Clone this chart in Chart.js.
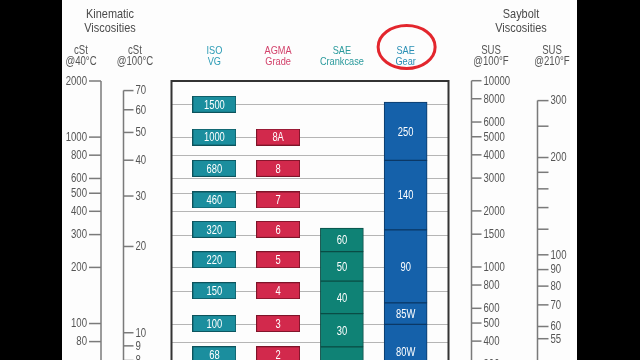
<!DOCTYPE html>
<html>
<head>
<meta charset="utf-8">
<script src="https://cdn.jsdelivr.net/npm/chart.js@4/dist/chart.umd.min.js"></script>
<style>
  html, body { margin: 0; padding: 0; background: #000; overflow: hidden; }
  #wrap { width: 640px; height: 430px; }
</style>
</head>
<body>
<div id="wrap"><canvas id="grafico" width="640" height="430"></canvas></div>
<script>
// columns of the chart
const categories = ['ISO VG', 'AGMA Grade', 'SAE Crankcase', 'SAE Gear'];
const headerColors = ['#2b9bb5', '#d2416a', '#2a9a9c', '#2a8fb5'];

// ISO VG and AGMA grades sit at their cSt @40°C value
const isoGrades = ['1500', '1000', '680', '460', '320', '220', '150', '100', '68'];
const isoCst40 = [1500, 1000, 680, 460, 320, 220, 150, 100, 68];
const agmaGrades = ['8A', '8', '7', '6', '5', '4', '3', '2'];
const agmaCst40 = [1000, 680, 460, 320, 220, 150, 100, 68];

// SAE ranges, cSt @40°C
const crankGrades = ['60', '50', '40', '30', '20'];
const crankLow = [243, 169, 113, 75, 46];
const crankHigh = [325, 243, 169, 113, 75];
const gearGrades = ['250', '140', '90', '85W', '80W'];
const gearLow = [751, 318, 129, 99, 51];
const gearHigh = [1541, 751, 318, 129, 99];

// scales on both sides
const gridCst40 = [1500, 1000, 800, 600, 500, 400, 300, 200, 150, 100, 80, 60];
const cst40Ticks = [2000, 1000, 800, 600, 500, 400, 300, 200, 100, 80, 60];
const cst100Ticks = [70, 60, 50, 40, 30, 20, 10, 9, 8];
const sus100Ticks = [10000, 8000, 6000, 5000, 4000, 3000, 2000, 1500, 1000, 800, 600, 500, 400, 300];
const sus210Ticks = [300, 250, 200, 180, 160, 140, 120, 100, 90, 80, 70, 60, 55];
const sus210Labels = ['300', '', '200', '', '', '', '', '100', '90', '80', '70', '60', '55'];

const FONT = "'Liberation Sans', Arial, sans-serif";
Chart.defaults.font.family = FONT;

function makeBox(fill, stroke) {
    const c = document.createElement('canvas');
    c.width = 44;
    c.height = 17;
    const g = c.getContext('2d');
    g.fillStyle = fill;
    g.fillRect(0, 0, 44, 17);
    g.strokeStyle = stroke;
    g.lineWidth = 1;
    g.strokeRect(0.5, 0.5, 43, 16);
    return c;
}

const isoBox = makeBox('#1b8e9e', '#0d535c');
const agmaBox = makeBox('#d2294c', '#7d1429');

const boxPad = 11;

const gradeLabels = [isoGrades, agmaGrades, crankGrades, gearGrades];

const sideAxes = [
    { id: 'y', x: 101, side: 'left', tick: 12, ticks: cst40Ticks, labels: cst40Ticks.map(String) },
    { id: 'y100', x: 123.5, side: 'right', tick: 10, ticks: cst100Ticks, labels: cst100Ticks.map(String) },
    { id: 'sus100', x: 471.5, side: 'right', tick: 10, ticks: sus100Ticks, labels: sus100Ticks.map(String) },
    { id: 'sus210', x: 537.5, side: 'right', tick: 11, ticks: sus210Ticks, labels: sus210Labels }
];

// narrow text: the original uses a condensed face
function narrowText(ctx, str, x, y, size, align, color, squeeze) {
    ctx.save();
    ctx.translate(x, y);
    ctx.scale(squeeze || 0.8, 1);
    ctx.font = size + 'px ' + FONT;
    ctx.fillStyle = color;
    ctx.textAlign = align;
    ctx.textBaseline = 'middle';
    ctx.fillText(str, 0, 0);
    ctx.restore();
}

const viscPlugin = {
    id: 'viscPlugin',
    beforeDraw(chart) {
        const ctx = chart.ctx;
        ctx.save();
        ctx.fillStyle = '#000';
        ctx.fillRect(0, 0, chart.width, chart.height);
        ctx.fillStyle = '#fdfdfd';
        ctx.fillRect(62, 0, 515, chart.height);
        ctx.restore();
    },
    beforeDatasetsDraw(chart) {
        const ctx = chart.ctx;
        const area = chart.chartArea;
        const y = chart.scales.y;
        ctx.save();
        ctx.strokeStyle = '#b5b5b5';
        ctx.lineWidth = 1;
        gridCst40.forEach(function (v) {
            const py = Math.round(y.getPixelForValue(v)) + 0.5;
            ctx.beginPath();
            ctx.moveTo(area.left - boxPad, py);
            ctx.lineTo(area.right + boxPad, py);
            ctx.stroke();
        });
        ctx.restore();
    },
    afterDatasetsDraw(chart) {
        const ctx = chart.ctx;
        const area = chart.chartArea;
        ctx.save();
        // labels inside boxes and bars
        chart.data.datasets.forEach(function (ds, i) {
            const meta = chart.getDatasetMeta(i);
            meta.data.forEach(function (el, j) {
                const p = el.getCenterPoint();
                narrowText(ctx, gradeLabels[i][j], p.x, p.y + 1, 12, 'center', '#ffffff', 0.78);
            });
        });

        // frame
        ctx.strokeStyle = '#333';
        ctx.lineWidth = 2;
        ctx.strokeRect(area.left - boxPad, area.top, area.right - area.left + 2 * boxPad, chart.height);

        // side scales
        ctx.strokeStyle = '#7a7a7a';
        ctx.lineWidth = 1.5;
        sideAxes.forEach(function (ax) {
            const sc = chart.scales[ax.id];
            const top = sc.getPixelForValue(ax.ticks[0]);
            const dir = ax.side === 'left' ? -1 : 1;
            ctx.beginPath();
            ctx.moveTo(ax.x, top);
            ctx.lineTo(ax.x, chart.height);
            ctx.stroke();
            ax.ticks.forEach(function (v, k) {
                const py = sc.getPixelForValue(v);
                ctx.beginPath();
                ctx.moveTo(ax.x, py);
                ctx.lineTo(ax.x + dir * ax.tick, py);
                ctx.stroke();
                narrowText(ctx, ax.labels[k], ax.x + dir * (ax.tick + 2), py + 0.5, 12,
                    ax.side === 'left' ? 'right' : 'left', '#555', 0.8);
            });
        });

        // column headers at the category positions
        const xs = chart.scales.x;
        categories.forEach(function (c, i) {
            const parts = c.split(' ');
            const cx = xs.getPixelForValue(i);
            narrowText(ctx, parts[0], cx, 51, 11.5, 'center', headerColors[i], 0.8);
            narrowText(ctx, parts[1], cx, 62, 11.5, 'center', headerColors[i], 0.8);
        });

        // side headers
        narrowText(ctx, 'Kinematic', 110, 14, 13.5, 'center', '#4a4a4a', 0.81);
        narrowText(ctx, 'Viscosities', 110, 28, 13.5, 'center', '#4a4a4a', 0.81);
        narrowText(ctx, 'Saybolt', 521, 14, 13.5, 'center', '#4a4a4a', 0.81);
        narrowText(ctx, 'Viscosities', 521, 28, 13.5, 'center', '#4a4a4a', 0.81);
        narrowText(ctx, 'cSt', 81, 51, 12, 'center', '#555', 0.8);
        narrowText(ctx, '@40°C', 81, 62, 12, 'center', '#555', 0.8);
        narrowText(ctx, 'cSt', 135, 51, 12, 'center', '#555', 0.8);
        narrowText(ctx, '@100°C', 135, 62, 12, 'center', '#555', 0.8);
        narrowText(ctx, 'SUS', 491, 51, 12, 'center', '#555', 0.8);
        narrowText(ctx, '@100°F', 491, 62, 12, 'center', '#555', 0.8);
        narrowText(ctx, 'SUS', 552, 51, 12, 'center', '#555', 0.8);
        narrowText(ctx, '@210°F', 552, 62, 12, 'center', '#555', 0.8);

        // red circle round SAE Gear
        const gx = xs.getPixelForValue(3);
        ctx.strokeStyle = '#e3262d';
        ctx.lineWidth = 3;
        ctx.beginPath();
        ctx.ellipse(gx + 1, 47, 28.5, 21.5, 0, 0, Math.PI * 2);
        ctx.stroke();
        ctx.restore();
    }
};

function points(values, cat) {
    return values.map(function (v) { return { x: cat, y: v }; });
}

function ranges(low, high, cat) {
    return low.map(function (v, i) { return { x: cat, y: [v, high[i]] }; });
}

new Chart(document.getElementById('grafico'), {
    type: 'bar',
    data: {
        labels: categories,
        datasets: [
            {
                type: 'line',
                label: 'ISO VG',
                data: points(isoCst40, categories[0]),
                showLine: false,
                pointStyle: isoBox,
                pointRadius: 8
            },
            {
                type: 'line',
                label: 'AGMA Grade',
                data: points(agmaCst40, categories[1]),
                showLine: false,
                pointStyle: agmaBox,
                pointRadius: 8
            },
            {
                label: 'SAE Crankcase',
                data: ranges(crankLow, crankHigh, categories[2]),
                backgroundColor: '#0f8275',
                borderColor: '#0a4c45',
                borderWidth: 1,
                borderSkipped: false,
                barThickness: 43,
                grouped: false
            },
            {
                label: 'SAE Gear',
                data: ranges(gearLow, gearHigh, categories[3]),
                backgroundColor: '#1561aa',
                borderColor: '#0b3866',
                borderWidth: 1,
                borderSkipped: false,
                barThickness: 43,
                grouped: false
            }
        ]
    },
    options: {
        responsive: false,
        animation: false,
        events: [],
        layout: { padding: { left: 182.5, right: 202.5, top: 0, bottom: 6 } },
        plugins: {
            legend: { display: false },
            tooltip: { enabled: false }
        },
        scales: {
            x: {
                position: 'top',
                offset: true,
                grid: { display: false, drawTicks: false },
                border: { display: false },
                ticks: { display: false },
                afterFit: function (s) { s.height = 81; }
            },
            y: { type: 'logarithmic', min: 30, max: 2000, display: false },
            y100: { type: 'logarithmic', position: 'left', min: 4.92, max: 75.6, display: false },
            sus100: { type: 'logarithmic', position: 'right', min: 149, max: 9963, display: false },
            sus210: { type: 'logarithmic', position: 'right', min: 30.6, max: 345, display: false }
        }
    },
    plugins: [viscPlugin]
});
</script>
</body>
</html>
